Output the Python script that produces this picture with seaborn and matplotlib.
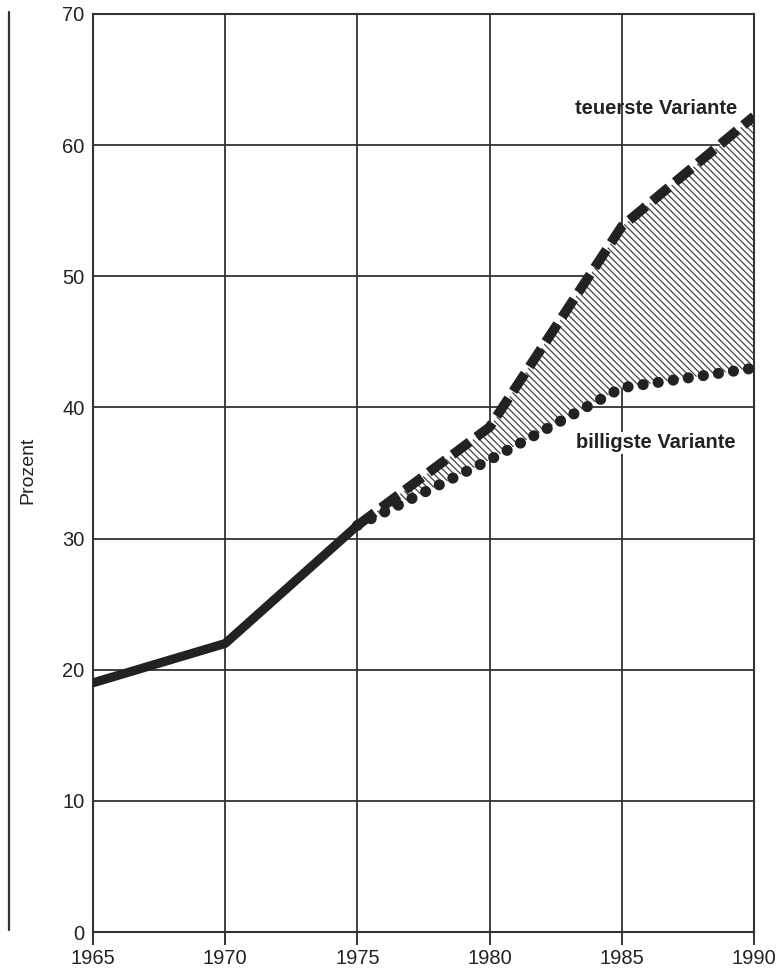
import matplotlib
matplotlib.use("Agg")
import matplotlib.pyplot as plt
from matplotlib.lines import Line2D
import seaborn as sns
import pandas as pd

years_hist = [1965, 1970, 1975]
values_hist = [19, 22, 31]
years_proj = [1975, 1980, 1985, 1990]
values_teuer = [31, 38.5, 53.8, 62.2]
values_billig = [31, 36, 41.5, 43]
x_ticks = [1965, 1970, 1975, 1980, 1985, 1990]
y_ticks = [0, 10, 20, 30, 40, 50, 60, 70]

sns.set_theme(style="white")
plt.rcParams['font.family'] = ['Liberation Sans', 'DejaVu Sans']

fig = plt.figure(figsize=(7.83, 9.74), dpi=100)
ax = fig.add_axes([93/783, 42/974, (754-93)/783, (932-14)/974])

ink = "#222222"
grid_c = "#333333"
ax.set_xlim(1965, 1990)
ax.set_ylim(0, 70)
ax.set_xticks(x_ticks)
ax.set_yticks(y_ticks)
ax.grid(True, color=grid_c, linewidth=1.3)
ax.set_axisbelow(True)
for s in ax.spines.values():
    s.set_color(grid_c)
    s.set_linewidth(1.5)

df_hist = pd.DataFrame({"Jahr": years_hist, "Prozent": values_hist})
df_teuer = pd.DataFrame({"Jahr": years_proj, "Prozent": values_teuer})
df_billig = pd.DataFrame({"Jahr": years_proj, "Prozent": values_billig})

plt.rcParams['hatch.color'] = "#444444"
plt.rcParams['hatch.linewidth'] = 0.9
ax.fill_between(years_proj, values_billig, values_teuer, facecolor="white",
                hatch="\\\\\\\\\\", edgecolor="#444444", linewidth=0, zorder=2)

sns.lineplot(data=df_hist, x="Jahr", y="Prozent", ax=ax, color=ink,
             linewidth=6.5, zorder=4, solid_capstyle="round")
sns.lineplot(data=df_teuer, x="Jahr", y="Prozent", ax=ax, color=ink,
             linewidth=7, zorder=4, dashes=False)
ax.lines[-1].set_linestyle((0, (2.2, 0.85)))
ax.lines[-1].set_dash_capstyle("butt")
sns.lineplot(data=df_billig, x="Jahr", y="Prozent", ax=ax, color=ink,
             linewidth=8, zorder=4)
ax.lines[-1].set_linestyle((0, (0.01, 1.36)))
ax.lines[-1].set_dash_capstyle("round")

ax.text(1986.3, 62.8, "teuerste Variante", fontsize=14.5, color=ink,
        ha="center", va="center", fontweight="bold")
ax.text(1986.3, 37.3, "billigste Variante", fontsize=14.5, color=ink,
        ha="center", va="center", fontweight="bold",
        bbox=dict(facecolor="white", edgecolor="none", pad=1))

ax.set_xlabel("")
ax.set_ylabel("Prozent", fontsize=14, color=ink)
ax.yaxis.set_label_coords(-0.085, 0.503)
ax.tick_params(axis="x", direction="out", length=9, width=1.4, color=grid_c,
               labelsize=14.5, labelcolor=ink, pad=3, bottom=True)
ax.tick_params(axis="y", length=0, labelsize=14.5, labelcolor=ink, pad=6)

fig.add_artist(Line2D([9/783, 9/783], [1 - 12/974, 1 - 930/974],
                      color=grid_c, linewidth=1.6))

fig.savefig("out.png", dpi=100)
